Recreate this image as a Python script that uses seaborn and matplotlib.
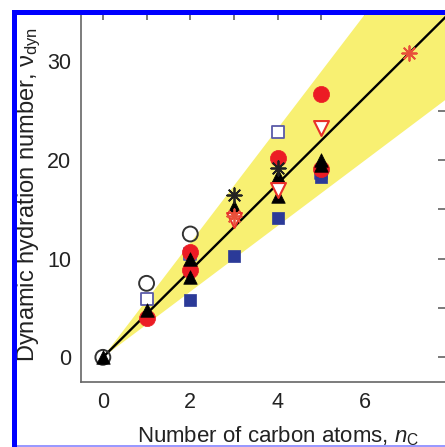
import numpy as np
import pandas as pd
import matplotlib
matplotlib.use("Agg")
import matplotlib.pyplot as plt
import seaborn as sns
from matplotlib.patches import Rectangle

sns.set_theme(style="white")
plt.rcParams['font.family'] = ['Liberation Sans', 'DejaVu Sans']
plt.rcParams['mathtext.fontset'] = 'custom'
plt.rcParams['mathtext.it'] = 'Liberation Sans:italic'
plt.rcParams['mathtext.rm'] = 'Liberation Sans'

# ---- data ----
open_circle_x = [0, 1, 2]
open_circle_y = [0.0, 7.5, 12.5]

open_square_x = [1, 2, 4, 5]
open_square_y = [5.9, 10.5, 22.8, 18.7]

blue_square_x = [2, 3, 4, 5]
blue_square_y = [5.8, 10.3, 14.1, 18.3]

red_circle_x = [1, 2, 2, 4, 5, 5]
red_circle_y = [4.0, 10.7, 8.9, 20.2, 26.7, 19.1]

black_tri_x = [0, 1, 2, 2, 3, 4, 4, 5, 5]
black_tri_y = [0.0, 4.8, 10.0, 8.1, 15.2, 18.4, 16.4, 20.0, 19.5]

red_invtri_x = [3, 4, 5]
red_invtri_y = [13.9, 17.0, 23.2]

black_ast_x = [3, 4]
black_ast_y = [16.5, 19.2]

red_ast_x = [3, 7]
red_ast_y = [14.3, 30.8]

fit_x = [0, 8]
fit_slope = 4.4
band_lower_slope = 3.33
band_upper_slope = 5.8

xticks = [0, 1, 2, 3, 4, 5, 6, 7]
xticklabels = ['0', '', '2', '', '4', '', '6', '']
yticks = [0, 5, 10, 15, 20, 25, 30, 35]
yticklabels = ['0', '', '10', '', '20', '', '30', '']

W, H = 445, 447
fig = plt.figure(figsize=(W / 100, H / 100), dpi=100)
left_px, right_px, top_px, bottom_px = 81, 446, 12, 382
ax = fig.add_axes([left_px / W, (H - bottom_px) / H,
                   (right_px - left_px) / W, (bottom_px - top_px) / H])

# yellow band
bx = np.array(fit_x, dtype=float)
ax.fill_between(bx, band_lower_slope * bx, band_upper_slope * bx,
                color='#f8f072', linewidth=0, zorder=1)
# fit line
line_df = pd.DataFrame({'x': bx, 'y': fit_slope * bx})
sns.lineplot(data=line_df, x='x', y='y', color='black', linewidth=1.7,
             ax=ax, zorder=2)

def pts(x, y, **kw):
    sns.scatterplot(x=x, y=y, ax=ax, zorder=3, **kw)

pts(open_circle_x, open_circle_y, marker='o', s=115, facecolor='none',
    edgecolor='#333333', linewidth=1.4)
pts(open_square_x, open_square_y, marker='s', s=72, facecolor='white',
    edgecolor='#5a5aa8', linewidth=1.3)
pts(blue_square_x, blue_square_y, marker='s', s=72, color='#2b3a98',
    edgecolor='#2b3a98', linewidth=0.5)
pts(red_circle_x, red_circle_y, marker='o', s=135, color='#ec1c24',
    edgecolor='#ec1c24', linewidth=0.5)
pts(black_tri_x, black_tri_y, marker='^', s=95, color='black',
    edgecolor='black', linewidth=0.5)
pts(red_invtri_x, red_invtri_y, marker='v', s=115, facecolor='white',
    edgecolor='#e8302a', linewidth=1.5)
pts(black_ast_x, black_ast_y, marker=(8, 2, 0), s=110, color='#222222',
    linewidth=1.3)
pts(red_ast_x, red_ast_y, marker=(8, 2, 0), s=110, color='#e8503a',
    linewidth=1.3)

ax.set_xlim(-0.5, (right_px - 103) / 43.7)
ax.set_ylim(-2.5, 35)
ax.set_xticks(xticks)
ax.set_xticklabels(xticklabels)
ax.set_yticks(yticks)
ax.set_yticklabels(yticklabels)
ax.tick_params(direction='in', length=6, width=1.1, color='#555555',
               top=True, right=True, labelsize=15.5, pad=7,
               labelcolor='#222222')
for sp in ax.spines.values():
    sp.set_color('#666666')
    sp.set_linewidth(1.2)
    sp.set_visible(True)

ax.set_xlabel(r'Number of carbon atoms, $n_\mathrm{C}$', fontsize=16,
              color='#222222')
ax.set_ylabel('Dynamic hydration number, ν$_\\mathrm{dyn}$', fontsize=17,
              color='#222222')
ax.xaxis.set_label_coords((278 - left_px) / (right_px - left_px),
                          (bottom_px - 424) / (bottom_px - top_px))
ax.yaxis.set_label_coords((43 - left_px) / (right_px - left_px),
                          (bottom_px - 194) / (bottom_px - top_px))

# blue frame (partially cropped)
fig.add_artist(Rectangle((12 / W, 0), 5 / W, (H - 10) / H,
                         transform=fig.transFigure, color='#0000ff',
                         zorder=20, linewidth=0))
fig.add_artist(Rectangle((12 / W, (H - 15) / H), 1 - 12 / W, 5 / H,
                         transform=fig.transFigure, color='#0000ff',
                         zorder=20, linewidth=0))
fig.add_artist(Rectangle((17 / W, 0), 1 - 17 / W, 2 / H,
                         transform=fig.transFigure, color='#9999ff',
                         zorder=20, linewidth=0))
fig.add_artist(Rectangle((0, 0), 12 / W, 1, transform=fig.transFigure,
                         color='white', zorder=19, linewidth=0))

fig.savefig('out.png', dpi=100)
